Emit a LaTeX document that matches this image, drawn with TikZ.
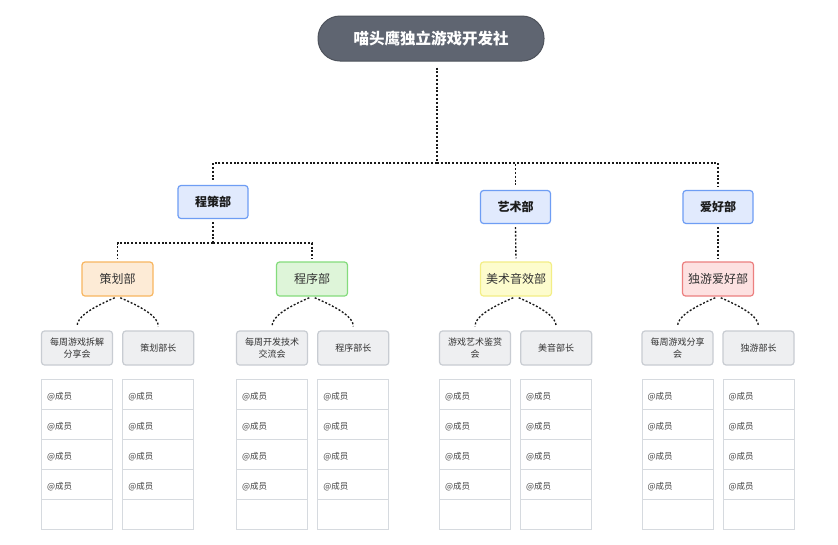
\documentclass[tikz,border=0pt]{standalone}
\usepackage{fontspec}
\setmainfont{Noto Sans CJK SC}
\definecolor{rootf}{HTML}{5F6571}
\definecolor{rootb}{HTML}{4E535C}
\definecolor{bluef}{HTML}{E1EAFD}
\definecolor{blueb}{HTML}{6E9DF4}
\definecolor{orf}{HTML}{FDEBD6}
\definecolor{orb}{HTML}{F8B660}
\definecolor{grf}{HTML}{DEF5D9}
\definecolor{grb}{HTML}{84DC7C}
\definecolor{yef}{HTML}{FDFCCD}
\definecolor{yeb}{HTML}{F3EE86}
\definecolor{ref}{HTML}{FDE1E1}
\definecolor{reb}{HTML}{EC7F7F}
\definecolor{grayf}{HTML}{EEEFF1}
\definecolor{grayb}{HTML}{C8CCD2}
\definecolor{cellb}{HTML}{D6DADF}
\definecolor{txtdark}{HTML}{1C1C1C}
\definecolor{txt}{HTML}{333333}
\definecolor{txtm}{HTML}{444444}
\tikzset{
  base/.style={rounded corners=3pt, line width=1.2pt, inner sep=0pt, align=center},
  rootbox/.style={draw=rootb, fill=rootf, line width=1pt, rounded corners=22pt, minimum width=226pt, minimum height=45pt, inner sep=0pt, text=white, font=\fontsize{15.5}{18}\selectfont\bfseries},
  dept/.style={base, draw=blueb, fill=bluef, minimum width=70pt, minimum height=33pt, font=\fontsize{12}{14}\selectfont\bfseries, text=txtdark},
  sub/.style={base, minimum width=71pt, minimum height=34pt, font=\fontsize{12}{14}\selectfont, text=txt},
  item/.style={base, draw=grayb, fill=grayf, minimum width=71pt, minimum height=34pt, font=\fontsize{9}{12.7}\selectfont, text=txt},
  cell/.style={draw=cellb, line width=0.9pt, fill=white, minimum height=30pt, text width=60pt, text height=10pt, text depth=0pt, inner xsep=5.5pt, inner ysep=0pt, align=left, font=\fontsize{8.5}{10}\selectfont, text=txtm},
  conn/.style={draw=black!90, line width=1.35pt, dash pattern=on 2pt off 1.8pt},
}
\begin{document}
\begin{tikzpicture}[x=1pt,y=-1pt]
\useasboundingbox[fill=white] (0,0) rectangle (838,544);

\node[rootbox] (root) at (431,38.5) {喵头鹰独立游戏开发社};

\node[dept] (cc) at (213,202) {程策部};
\node[dept] (ys) at (515.5,207) {艺术部};
\node[dept] (ah) at (718,207) {爱好部};

\node[sub, draw=orb, fill=orf] (ch) at (117.5,279) {策划部};
\node[sub, draw=grb, fill=grf] (cx) at (312,279) {程序部};
\node[sub, draw=yeb, fill=yef] (my) at (516,279) {美术音效部};
\node[sub, draw=reb, fill=ref] (dy) at (718,279) {独游爱好部};

\node[item] (i1) at (77,348) {每周游戏拆解\\分享会};
\node[item] (i2) at (158.3,348) {策划部长};
\node[item] (i3) at (272,348) {每周开发技术\\交流会};
\node[item] (i4) at (353.3,348) {程序部长};
\node[item] (i5) at (475,348) {游戏艺术鉴赏\\会};
\node[item] (i6) at (556.2,348) {美音部长};
\node[item] (i7) at (677.5,348) {每周游戏分享\\会};
\node[item] (i8) at (758.5,348) {独游部长};

\foreach \x [count=\i] in {77,158.3,272,353.3,475,556.2,677.5,758.5} {
  \foreach \j in {0,...,3} {
    \node[cell] (m\i-\j) at (\x,{394+30*\j}) {@成员};
  }
  \node[cell] (m\i-4) at (\x,514) {};
}

% top-level connectors
\coordinate (bus) at (437,163);
\draw[conn, shorten <=6pt] (root.south -| bus) -- (bus);
\draw[conn, shorten >=3pt] (bus) -| (cc.north);
\draw[conn, shorten >=3pt] (bus) -| (ys.north);
\draw[conn, shorten >=3pt] (bus) -| (ah.north);

% 程策部 branch
\coordinate (ccbus) at (213,243);
\draw[conn, shorten <=3pt] (cc.south) -- (ccbus);
\draw[conn, shorten >=3pt] (ccbus) -| (ch.north);
\draw[conn, shorten >=3pt] (ccbus) -| (cx.north);

\draw[conn, shorten <=3pt, shorten >=3pt] (ys.south) -- (my.north);
\draw[conn, shorten <=3pt, shorten >=3pt] (ah.south) -- (dy.north);

% curved connectors
\foreach \p/\l/\r in {ch/i1/i2, cx/i3/i4, my/i5/i6, dy/i7/i8} {
  \draw[conn, shorten <=3pt, shorten >=4pt] (\p.south) .. controls +(-28,12) and +(0,-13) .. (\l.north);
  \draw[conn, shorten <=3pt, shorten >=4pt] (\p.south) .. controls +(28,12) and +(0,-13) .. (\r.north);
}
\end{tikzpicture}
\end{document}
